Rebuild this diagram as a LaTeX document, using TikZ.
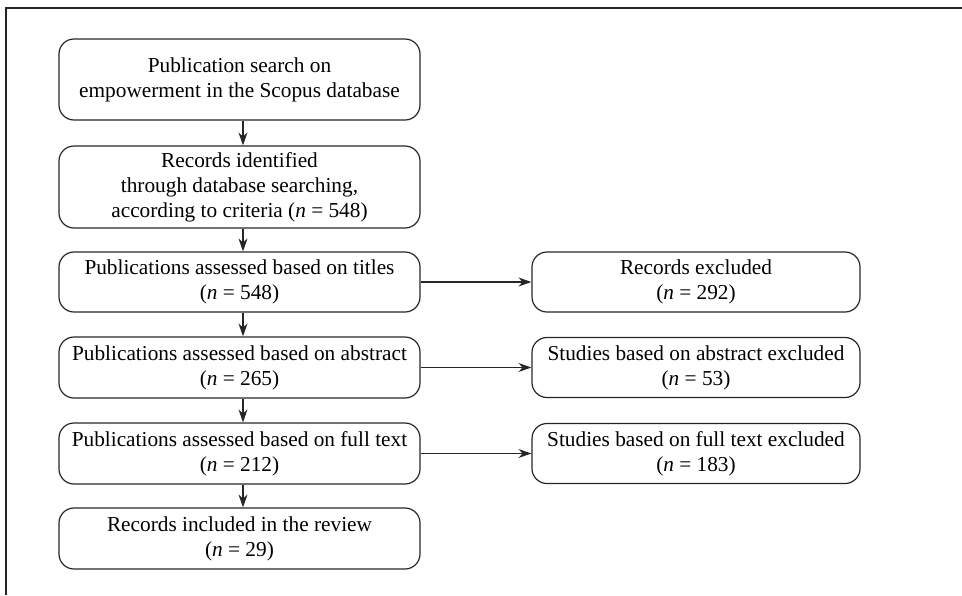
\documentclass[tikz,border=0pt]{standalone}
\usepackage{fontspec}
\setmainfont{Liberation Serif}
\usetikzlibrary{arrows.meta}
\begin{document}
\begin{tikzpicture}[x=1pt,y=-1pt,
  box/.style={draw=black!85,line width=1.2pt,rounded corners=15pt,align=center,
    font=\fontsize{21.3}{25}\selectfont,inner sep=0pt},
  lbox/.style={box,minimum width=361pt},
  rbox/.style={box,minimum width=328pt,minimum height=60pt},
  arr/.style={draw=black!85,line width=1.2pt,-{Stealth[length=13pt,width=9pt]}}]
\useasboundingbox (0,0) rectangle (962,595);
\draw[line width=1.5pt,black!85] (6,595) -- (6,8) -- (962,8);
\node[lbox,minimum height=81pt] (b1) at (239.5,79.5) {Publication search on\\empowerment in the Scopus database};
\node[lbox,minimum height=82pt] (b2) at (239.5,187) {Records identified\\through database searching,\\according to criteria (\textit{n} = 548)};
\node[lbox,minimum height=60pt] (b3) at (239.5,282) {Publications assessed based on titles\\(\textit{n} = 548)};
\node[lbox,minimum height=61pt] (b4) at (239.5,367.5) {Publications assessed based on abstract\\(\textit{n} = 265)};
\node[lbox,minimum height=61pt] (b5) at (239.5,453.5) {Publications assessed based on full text\\(\textit{n} = 212)};
\node[lbox,minimum height=61pt] (b6) at (239.5,538.5) {Records included in the review\\(\textit{n} = 29)};
\node[rbox] (r1) at (696,282) {Records excluded\\(\textit{n} = 292)};
\node[rbox] (r2) at (696,367.5) {Studies based on abstract excluded\\(\textit{n} = 53)};
\node[rbox] (r3) at (696,453.5) {Studies based on full text excluded\\(\textit{n} = 183)};
\coordinate (ax) at (243,0);
\foreach \a/\b in {b1/b2,b2/b3,b3/b4,b4/b5,b5/b6}
  \draw[arr] (\a.south -| ax) -- (\b.north -| ax);
\draw[arr] (b3) -- (r1);
\draw[arr] (b4) -- (r2);
\draw[arr] (b5) -- (r3);
\end{tikzpicture}
\end{document}
